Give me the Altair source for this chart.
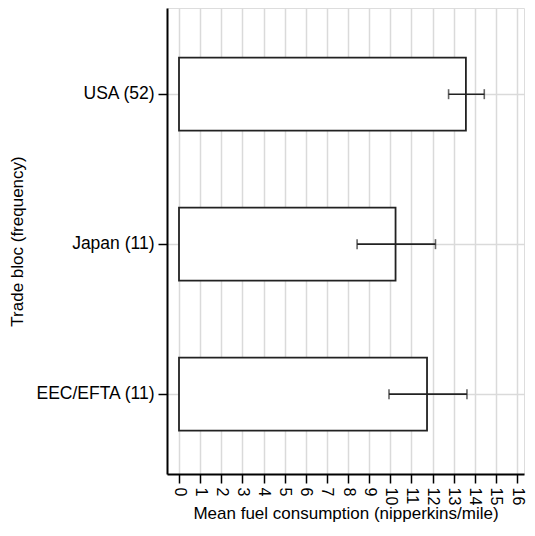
import altair as alt
import pandas as pd

# Data
blocs = ["USA (52)", "Japan (11)", "EEC/EFTA (11)"]
means = [13.58, 10.25, 11.74]
lower = [12.76, 8.43, 9.94]
upper = [14.45, 12.14, 13.63]
x_ticks = list(range(0, 17))

df = pd.DataFrame({"bloc": blocs, "mean": means, "lo": lower, "hi": upper})

FONT = "Liberation Sans"
GRID = "#dadada"
X_TITLE = "Mean fuel consumption (nipperkins/mile)"
Y_TITLE = "Trade bloc (frequency)"

x_scale = alt.Scale(domain=[-0.568, 16.33], nice=False, zero=False)
y_scale = alt.Scale(paddingInner=0.513, paddingOuter=0.31, align=0.534)

x_axis = alt.Axis(
    values=x_ticks, tickCount=17, labelAngle=90, grid=True, gridColor=GRID, gridWidth=1.5,
    domainColor="black", domainWidth=2, tickColor="black", tickSize=9, tickWidth=1.5,
    labelFontSize=16, labelPadding=4, labelAlign="left", labelBaseline="middle",
    labelOverlap=False, labelFlush=False,
    titleFontSize=17, titlePadding=1, titleFontWeight="normal",
    labelColor="black", titleColor="black",
)
y_axis = alt.Axis(
    grid=True, gridColor=GRID, gridWidth=1.5,
    domainColor="black", domainWidth=2, tickColor="black", tickSize=9, tickWidth=1.5,
    labelFontSize=17.5, labelPadding=4, titleFontSize=17, titlePadding=9,
    titleFontWeight="normal", labelOverlap=False,
    labelColor="black", titleColor="black",
)

base = alt.Chart(df)

bars = base.mark_bar(fill="white", stroke="#222222", strokeWidth=1.8).encode(
    x=alt.X("mean:Q", scale=x_scale, axis=x_axis, title=X_TITLE),
    y=alt.Y("bloc:N", sort=blocs, scale=y_scale, axis=y_axis, title=Y_TITLE),
)

rules = base.mark_rule(color="#222222", strokeWidth=1.6).encode(
    x=alt.X("lo:Q", scale=x_scale, axis=x_axis, title=X_TITLE),
    x2="hi:Q",
    y=alt.Y("bloc:N", sort=blocs, scale=y_scale, axis=y_axis, title=Y_TITLE),
)

caps_lo = base.mark_tick(color="#222222", thickness=1.6, size=10).encode(
    x=alt.X("lo:Q", scale=x_scale, axis=x_axis, title=X_TITLE),
    y=alt.Y("bloc:N", sort=blocs, scale=y_scale, axis=y_axis, title=Y_TITLE),
)
caps_hi = base.mark_tick(color="#222222", thickness=1.6, size=10).encode(
    x=alt.X("hi:Q", scale=x_scale, axis=x_axis, title=X_TITLE),
    y=alt.Y("bloc:N", sort=blocs, scale=y_scale, axis=y_axis, title=Y_TITLE),
)

chart = (
    alt.layer(bars, rules, caps_lo, caps_hi)
    .properties(
        width=357,
        height=466,
        autosize=alt.AutoSizeParams(type="none"),
        padding={"left": 159, "top": 0, "right": 3, "bottom": 48},
    )
    .configure_view(stroke=None)
    .configure_axis(labelFont=FONT, titleFont=FONT)
    .configure(background="white")
)

chart.save("out.html", embed_options={"renderer": "svg", "actions": False})
